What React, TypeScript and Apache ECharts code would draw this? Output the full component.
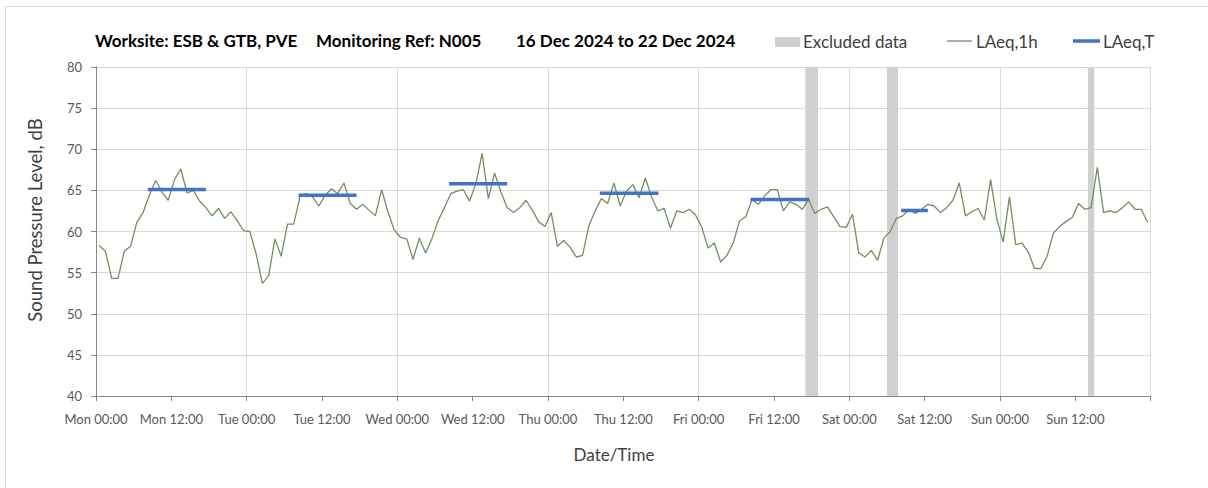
import React, { useEffect, useRef } from 'react';
import * as echarts from 'echarts';

const days = ['Mon', 'Tue', 'Wed', 'Thu', 'Fri', 'Sat', 'Sun'];

// Hourly LAeq,1h values (plotted at mid-hour), Mon 00:00 .. Sun 23:00
const laeq1h = [
  58.3, 57.6, 54.3, 54.3, 57.6, 58.2, 61.1, 62.3, 64.4, 66.2, 64.8, 63.8,
  66.3, 67.6, 64.7, 65.0, 63.7, 62.9, 61.9, 62.8, 61.6, 62.4, 61.3, 60.1,
  60.0, 57.3, 53.7, 54.6, 59.1, 57.0, 60.9, 60.9, 64.3, 64.6, 64.2, 63.1,
  64.4, 65.2, 64.6, 65.9, 63.4, 62.7, 63.3, 62.6, 61.9, 65.1, 62.4, 60.2,
  59.3, 59.1, 56.6, 59.2, 57.4, 59.1, 61.3, 62.9, 64.6, 64.9, 65.1, 63.7,
  65.8, 69.5, 64.0, 67.1, 64.8, 62.9, 62.3, 62.9, 63.8, 62.6, 61.2, 60.6,
  62.3, 58.2, 58.9, 58.1, 56.9, 57.1, 60.7, 62.5, 64.0, 63.4, 65.9, 63.1,
  64.9, 65.7, 64.1, 66.5, 64.2, 62.5, 62.8, 60.4, 62.5, 62.3, 62.7, 62.0,
  60.5, 58.0, 58.6, 56.3, 57.1, 58.6, 61.3, 61.8, 63.9, 63.3, 64.3, 65.1,
  65.1, 62.5, 63.6, 63.3, 62.7, 63.9, 62.2, 62.7, 63.0, 61.8, 60.6, 60.5,
  62.1, 57.4, 56.9, 57.7, 56.5, 59.2, 60.0, 61.6, 61.9, 62.7, 62.2, 62.7,
  63.3, 63.1, 62.3, 62.9, 63.8, 65.9, 61.9, 62.4, 62.8, 61.4, 66.3, 61.5,
  58.7, 64.2, 58.4, 58.6, 57.5, 55.5, 55.5, 57.0, 59.8, 60.6, 61.2, 61.7,
  63.4, 62.7, 62.9, 67.8, 62.3, 62.5, 62.3, 62.9, 63.6, 62.7, 62.7, 61.1,
];

// LAeq,T daytime periods (hours from Mon 00:00)
const laeqTStart = [8.25, 32.25, 56.25, 80.25, 104.25, 128.25];
const laeqTEnd = [17.5, 41.5, 65.5, 89.6, 113.6, 132.5];
const laeqT = [65.1, 64.4, 65.8, 64.65, 63.9, 62.55];

// Excluded data periods (hours from Mon 00:00)
const excludedStart = [113, 126, 158];
const excludedEnd = [115, 127.75, 159];

const yTicks = { min: 40, max: 80, interval: 5 };
const titleParts = [
  'Worksite: ESB & GTB, PVE',
  'Monitoring Ref: N005',
  '16 Dec 2024 to 22 Dec 2024',
];

const FONT = 'Lato, "Open Sans", sans-serif';
const GREEN = '#738f5f';
const BLUE = '#4472C4';
const GREY_BAND = '#d0d0d0';

export default function App() {
  const ref = useRef<HTMLDivElement>(null);

  useEffect(() => {
    const chart = echarts.init(ref.current!, null, { renderer: 'svg' });

    const tSeries = laeqT.map((v, i) => ({
      type: 'line',
      name: 'LAeq,T',
      xAxisIndex: 0,
      yAxisIndex: 0,
      data: [
        [laeqTStart[i], v],
        [laeqTEnd[i], v],
      ],
      symbol: 'none',
      silent: true,
      z: 4,
      lineStyle: { color: BLUE, width: 3.5, cap: 'butt' },
    }));

    const legendText = (text: string, x: number) => ({
      type: 'text',
      x,
      y: 41,
      style: { text, fontSize: 17, fontFamily: FONT, fill: '#404040', verticalAlign: 'middle' },
    });

    const option: any = {
      animation: false,
      backgroundColor: '#ffffff',
      grid: { left: 96, right: 57.3, top: 67, bottom: 92, containLabel: false },
      xAxis: [
        {
          type: 'value',
          min: 0,
          max: 168,
          interval: 12,
          axisLine: { show: true, lineStyle: { color: '#868686', width: 1 } },
          axisTick: { show: true, length: 5, lineStyle: { color: '#868686' } },
          splitLine: { show: false },
          axisLabel: {
            color: '#595959',
            fontSize: 13,
            fontFamily: FONT,
            margin: 16,
            showMaxLabel: true,
            formatter: (v: number) =>
              v >= 168 ? '' : `${days[Math.floor(v / 24)]} ${v % 24 === 0 ? '00:00' : '12:00'}`,
          },
        },
        {
          type: 'value',
          position: 'top',
          min: 0,
          max: 168,
          interval: 24,
          axisLine: { show: false },
          axisTick: { show: false },
          axisLabel: { show: false },
          splitLine: { show: true, lineStyle: { color: '#d9d9d9', width: 1 } },
        },
      ],
      yAxis: [
        {
          type: 'value',
          min: yTicks.min,
          max: yTicks.max,
          interval: yTicks.interval,
          axisLine: { show: true, lineStyle: { color: '#868686', width: 1 } },
          axisTick: { show: true, length: 5, lineStyle: { color: '#868686' } },
          splitLine: { show: true, lineStyle: { color: '#d9d9d9', width: 1 } },
          axisLabel: { color: '#595959', fontSize: 13, fontFamily: FONT, margin: 14 },
        },
        {
          type: 'value',
          position: 'right',
          min: yTicks.min,
          max: yTicks.max,
          interval: yTicks.interval,
          axisLine: { show: true, lineStyle: { color: '#868686', width: 1 } },
          axisTick: { show: false },
          axisLabel: { show: false },
          splitLine: { show: false },
        },
      ],
      series: [
        {
          type: 'line',
          name: 'Excluded data',
          data: [],
          z: 1,
          silent: true,
          markArea: {
            silent: true,
            itemStyle: { color: GREY_BAND },
            data: excludedStart.map((s, i) => [{ xAxis: s }, { xAxis: excludedEnd[i] }]),
          },
        },
        {
          type: 'line',
          name: 'LAeq,1h',
          xAxisIndex: 0,
          yAxisIndex: 0,
          data: laeq1h.map((v, i) => [i + 0.5, v]),
          symbol: 'none',
          silent: true,
          z: 3,
          lineStyle: { color: GREEN, width: 1.3 },
        },
        ...tSeries,
      ],
      graphic: [
        {
          type: 'rect',
          shape: { x: 5.5, y: 6.5, width: 1300, height: 600 },
          style: { fill: 'none', stroke: '#d9d9d9', lineWidth: 1 },
          silent: true,
        },
        ...titleParts.map((t, i) => ({
          type: 'text',
          x: [95, 316, 516][i],
          y: 40,
          style: {
            text: t,
            fontSize: 17,
            fontWeight: 'bold',
            fontFamily: FONT,
            fill: '#000000',
            align: 'left',
            verticalAlign: 'middle',
          },
        })),
        {
          type: 'rect',
          shape: { x: 775, y: 37, width: 25, height: 10 },
          style: { fill: GREY_BAND },
        },
        legendText('Excluded data', 803),
        {
          type: 'line',
          shape: { x1: 947, y1: 41, x2: 972, y2: 41 },
          style: { stroke: GREEN, lineWidth: 1.3 },
        },
        legendText('LAeq,1h', 976),
        {
          type: 'line',
          shape: { x1: 1073, y1: 41, x2: 1100, y2: 41 },
          style: { stroke: BLUE, lineWidth: 3.5 },
        },
        legendText('LAeq,T', 1103),
        {
          type: 'text',
          x: 614,
          y: 454,
          style: {
            text: 'Date/Time',
            fontSize: 17,
            fontFamily: FONT,
            fill: '#404040',
            align: 'center',
            verticalAlign: 'middle',
          },
        },
        {
          type: 'text',
          x: 35,
          y: 220,
          rotation: Math.PI / 2,
          style: {
            text: 'Sound Pressure Level, dB',
            fontSize: 18.5,
            fontFamily: FONT,
            fill: '#404040',
            align: 'center',
            verticalAlign: 'middle',
          },
        },
      ],
    };

    chart.setOption(option);
    return () => chart.dispose();
  }, []);

  return (
    <div
      ref={ref}
      style={{ position: 'absolute', left: 0, top: 0, width: 1208, height: 488, background: '#fff' }}
    />
  );
}
